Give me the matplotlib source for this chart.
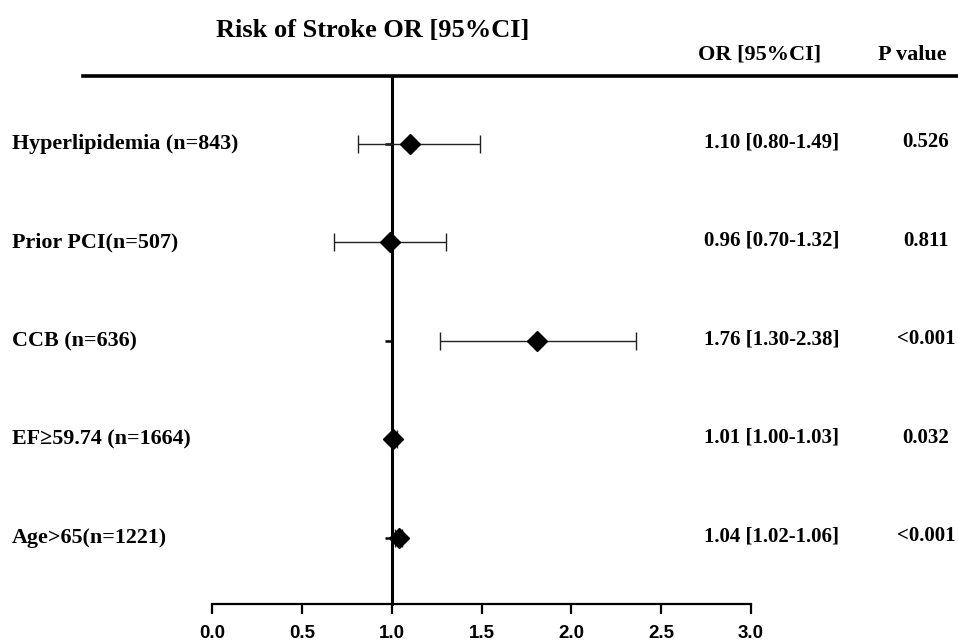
import matplotlib
matplotlib.use("Agg")
import matplotlib.pyplot as plt
from matplotlib.lines import Line2D
from matplotlib.transforms import blended_transform_factory

# ---- data ----
labels = ["Hyperlipidemia (n=843)", "Prior PCI(n=507)", "CCB (n=636)",
          "EF\u226559.74 (n=1664)", "Age>65(n=1221)"]
or_vals = [1.10, 0.99, 1.81, 1.01, 1.04]
ci_low = [0.81, 0.68, 1.27, 1.00, 1.02]
ci_high = [1.49, 1.30, 2.36, 1.03, 1.06]
or_text = ["1.10 [0.80-1.49]", "0.96 [0.70-1.32]", "1.76 [1.30-2.38]",
           "1.01 [1.00-1.03]", "1.04 [1.02-1.06]"]
p_text = ["0.526", "0.811", "<0.001", "0.032", "<0.001"]
xticks = [0.0, 0.5, 1.0, 1.5, 2.0, 2.5, 3.0]
xtick_labels = ["0.0", "0.5", "1.0", "1.5", "2.0", "2.5", "3.0"]

W, H = 958, 643
fig = plt.figure(figsize=(W / 100, H / 100), dpi=100)
ax = fig.add_axes([212 / W, (H - 604) / H, (751 - 212) / W, (604 - 77) / H])

serif = "Liberation Serif"
rows = list(range(len(labels)))

err_lo = [o - l for o, l in zip(or_vals, ci_low)]
err_hi = [h - o for o, h in zip(or_vals, ci_high)]
ax.errorbar(or_vals, rows, xerr=[err_lo, err_hi], fmt="none", ecolor="#222222",
            elinewidth=1.0, capsize=6.5, capthick=1.0, zorder=3)
ax.plot(or_vals, rows, linestyle="none", marker="D", markersize=10.5,
        color="black", zorder=4)

ax.set_xlim(0, 3)
ax.set_ylim(len(labels) - 1 + 0.67, -0.68)

ax.spines["top"].set_visible(False)
ax.spines["right"].set_visible(False)
ax.spines["left"].set_position(("data", 1.0))
ax.spines["left"].set_linewidth(2.2)
ax.spines["bottom"].set_linewidth(1.6)

ax.set_yticks(rows)
ax.set_yticklabels([""] * len(rows))
ax.tick_params(axis="y", direction="out", length=5, width=1.8)
ax.set_xticks(xticks)
ax.set_xticklabels(xtick_labels, fontfamily="Liberation Sans", fontweight="bold",
                   fontsize=13.5)
ax.tick_params(axis="x", direction="out", length=7, width=1.6, pad=8)

tr = blended_transform_factory(fig.transFigure, ax.transData)
for i, lab in enumerate(labels):
    ax.text(12 / W, i, lab, transform=tr, ha="left", va="center",
            fontfamily=serif, fontweight="bold", fontsize=15.8)
    ax.text(772 / W, i - 0.02, or_text[i], transform=tr, ha="center", va="center",
            fontfamily=serif, fontweight="bold", fontsize=15)
    ax.text(926 / W, i - 0.02, p_text[i], transform=tr, ha="center", va="center",
            fontfamily=serif, fontweight="bold", fontsize=15)

fig.text(373 / W, 1 - 30 / H, "Risk of Stroke OR [95%CI]", ha="center", va="center",
         fontfamily=serif, fontweight="bold", fontsize=19)
fig.text(760 / W, 1 - 55 / H, "OR [95%CI]", ha="center", va="center",
         fontfamily=serif, fontweight="bold", fontsize=16)
fig.text(912 / W, 1 - 55 / H, "P value", ha="center", va="center",
         fontfamily=serif, fontweight="bold", fontsize=16)

fig.add_artist(Line2D([83 / W, 1.0], [1 - 75.5 / H, 1 - 75.5 / H],
                      transform=fig.transFigure, color="black", linewidth=2.6))

fig.savefig("out.png", dpi=100)
